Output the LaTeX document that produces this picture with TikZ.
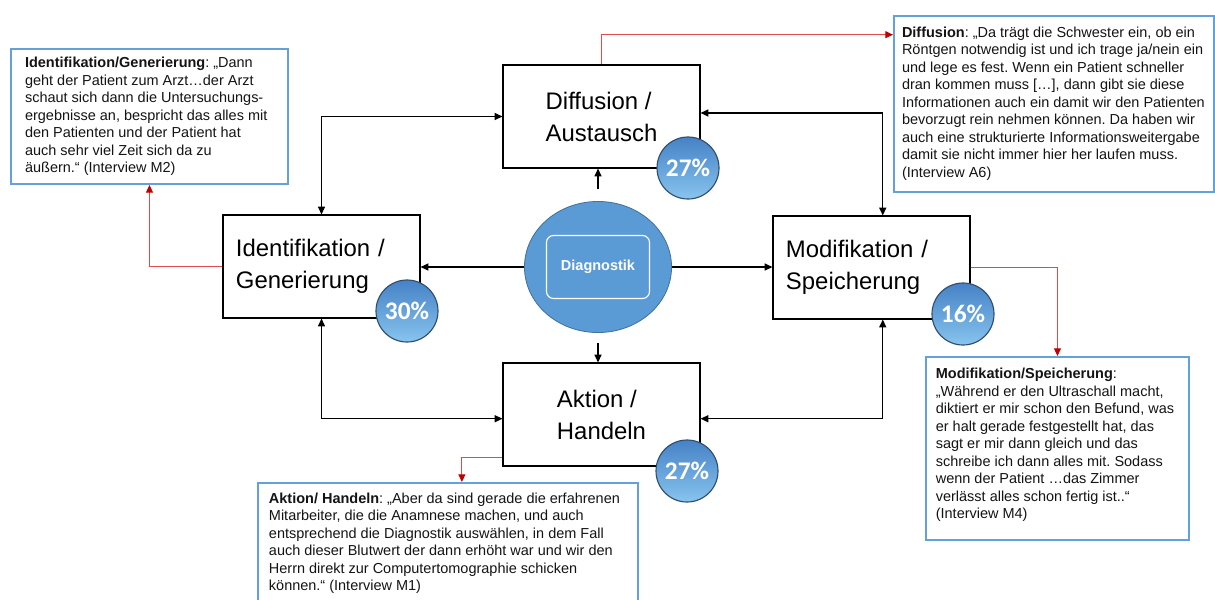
\documentclass[tikz,border=0pt]{standalone}
\usepackage{fontspec}
\setmainfont{Liberation Sans}
\newfontfamily\pctfont{Carlito}
\usepackage{xcolor}
\usepackage{tikz}
\usetikzlibrary{positioning,arrows.meta,shapes.geometric}
\frenchspacing
\definecolor{diagblue}{RGB}{91,155,213}
\definecolor{diagedge}{RGB}{65,113,156}
\definecolor{ballhi}{RGB}{70,130,198}
\definecolor{balllo}{RGB}{135,196,238}
\definecolor{balledge}{RGB}{48,78,108}
\definecolor{quoteblue}{RGB}{100,160,220}
\definecolor{linkred}{RGB}{225,75,75}
\definecolor{tipred}{RGB}{192,0,0}
\definecolor{quotetext}{RGB}{20,20,20}

\begin{document}
\begin{tikzpicture}[x=0.025cm, y=-0.025cm,
                every node/.append style = {inner sep=0pt},
                stage/.style = {draw, line width=0.8pt, fill=white, minimum width=4.925cm, minimum height=2.575cm,
                                align=left, font=\fontsize{17}{22.8}\selectfont},
                quote/.style = {draw=quoteblue, line width=1.4pt, fill=white, anchor=north west,
                                font=\fontsize{10.3}{12.45}\selectfont, text=quotetext},
                pct/.style = {circle, draw=balledge, line width=0.8pt, top color=ballhi, bottom color=balllo,
                              minimum size=1.55cm, text=white, font=\pctfont\bfseries\fontsize{18}{18}\selectfont},
                link/.style = {line width=0.9pt, {Triangle[length=5.5pt,width=5pt]}-{Triangle[length=5.5pt,width=5pt]}},
                single/.style = {line width=0.9pt, -{Triangle[length=5.5pt,width=5pt]}},
                redlink/.style = {draw=linkred, line width=0.7pt, -{Triangle[length=5.5pt,width=5pt,color=tipred]}}]
            \useasboundingbox (0,0) rectangle (1215,599);

            \node[stage, text width=4.275cm] (ident) at (321.5,266.5) {Identifikation /\\Generierung};
            \node[stage] (diff) at (601.5,116.5) {Diffusion /\\Austausch};
            \node[stage, text width=4.275cm] (modif) at (871.5,267.5) {Modifikation /\\Speicherung};
            \node[stage] (aktion) at (601.5,414.5) {Aktion /\\Handeln};

            \node[ellipse, fill=diagblue, draw=diagedge, line width=0.6pt, minimum width=3.675cm, minimum height=3.275cm] (diag) at (598,267) {};
            \node[draw=white, line width=0.8pt, rounded corners=5pt, minimum width=2.575cm, minimum height=1.575cm,
                  text=white, font=\bfseries\fontsize{10.3}{12}\selectfont] (diaglabel) at (diag.center) {Diagnostik};

            \node[quote, inner xsep=10pt, inner ysep=6pt] (qident) at (10,48) {\parbox[c][84pt][t]{177pt}{\raggedright
                \textbf{Identifikation/Generierung}: „Dann\\
                geht der Patient zum Arzt…der Arzt\\
                schaut sich dann die Untersuchungs-\\
                ergebnisse an, bespricht das alles mit\\
                den Patienten und der Patient hat\\
                auch sehr viel Zeit sich da zu\\
                äußern.“ (Interview M2)}};
            \node[quote, inner xsep=5.7pt, inner ysep=7.5pt] (qdiff) at (893,15) {\parbox[c][110pt][t]{216pt}{\raggedright
                \textbf{Diffusion}: „Da trägt die Schwester ein, ob ein\\
                Röntgen notwendig ist und ich trage ja/nein ein\\
                und lege es fest. Wenn ein Patient schneller\\
                dran kommen muss […], dann gibt sie diese\\
                Informationen auch ein damit wir den Patienten\\
                bevorzugt rein nehmen können. Da haben wir\\
                auch eine strukturierte Informationsweitergabe\\
                damit sie nicht immer hier her laufen muss.\\
                (Interview A6)}};
            \node[quote, inner xsep=7pt, inner ysep=8pt] (qmodif) at (925,356) {\parbox[c][114pt][t]{173pt}{\raggedright
                \textbf{Modifikation/Speicherung}:\\
                „Während er den Ultraschall macht,\\
                diktiert er mir schon den Befund, was\\
                er halt gerade festgestellt hat, das\\
                sagt er mir dann gleich und das\\
                schreibe ich dann alles mit. Sodass\\
                wenn der Patient …das Zimmer\\
                verlässt alles schon fertig ist..“\\
                (Interview M4)}};
            \node[quote, inner xsep=7.8pt, inner ysep=7pt] (qaktion) at (257,482) {\parbox[c][76pt][t]{254.4pt}{\raggedright
                \textbf{Aktion/ Handeln}: „Aber da sind gerade die erfahrenen\\
                Mitarbeiter, die die Anamnese machen, und auch\\
                entsprechend die Diagnostik auswählen, in dem Fall\\
                auch dieser Blutwert der dann erhöht war und wir den\\
                Herrn direkt zur Computertomographie schicken\\
                können.“ (Interview M1)}};

            \draw[link] (ident.north) |- (diff.west);
            \draw[link] ([yshift=2.5pt]diff.east) -| ([xshift=8pt]modif.north);
            \draw[link] (ident.south) |- ([yshift=-3pt]aktion.west);
            \draw[link] ([xshift=8pt]modif.south) |- ([yshift=-3pt]aktion.east);

            \draw[single] (diag.west) -- (diag.west -| ident.east);
            \draw[single] (diag.east) -- (diag.east -| modif.west);
            \draw[single, shorten <=8.5pt] (diag.north) -- (diag.north |- diff.south);
            \draw[single, shorten <=7pt] (diag.south) -- (diag.south |- aktion.north);

            \draw[redlink] (diff.north) |- ([yshift=-14pt]qdiff.north west);
            \draw[redlink] (ident.west) -| (qident.south);
            \draw[redlink] (modif.east) -| (qmodif.north);
            \draw[redlink] ([yshift=6.4pt]aktion.south west) -| ([xshift=10pt]qaktion.north);

            \node[pct] (pdiff) at (688,168) {27\%};
            \node[pct] (pident) at (407,311) {30\%};
            \node[pct] (pmodif) at (963,314) {16\%};
            \node[pct] (paktion) at (687,471) {27\%};
            \end{tikzpicture}
\end{document}
